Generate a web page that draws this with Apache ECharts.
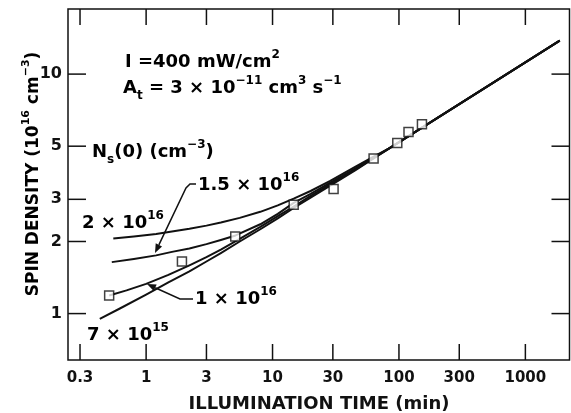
<!DOCTYPE html>
<html>
<head>
<meta charset="utf-8">
<script src="https://cdn.jsdelivr.net/npm/echarts@6/dist/echarts.min.js"></script>
<style>
  html, body { margin: 0; padding: 0; background: #fff; }
  #chart { width: 571px; height: 413px; }
</style>
</head>
<body>
<div id="chart"></div>
<script>
// Axis ticks: illumination time (min) and spin density (10^16 cm^-3)
const xTicks = [0.3, 1, 3, 10, 30, 100, 300, 1000];
const xTickLabels = ['0.3', '1', '3', '10', '30', '100', '300', '1000'];
const yTicks = [1, 2, 3, 5, 10];
const yTickLabels = ['1', '2', '3', '5', '10'];

// Measured spin density
const measuredTime = [0.51, 1.92, 5.07, 14.7, 30.4, 63, 97, 119, 152];
const measuredDensity = [1.19, 1.65, 2.10, 2.85, 3.31, 4.44, 5.15, 5.73, 6.17];

// Calculated curves for several initial densities Ns(0)
const time2e16 = [0.55, 0.8, 1.2, 1.6, 2.2, 3.0, 3.9, 5.5, 8, 11, 14.7, 20, 28.6, 45, 63, 85, 1870];
const dens2e16 = [2.06, 2.10, 2.15, 2.20, 2.26, 2.33, 2.40, 2.51, 2.66, 2.83, 3.02, 3.25, 3.58, 4.10, 4.52, 4.92, 13.8];

const time15e16 = [0.535, 0.8, 1.2, 1.6, 2.2, 3.0, 3.9, 5.1, 8, 11, 14.7, 20, 28.6, 45, 63, 85, 1870];
const dens15e16 = [1.64, 1.69, 1.75, 1.81, 1.87, 1.95, 2.03, 2.12, 2.36, 2.61, 2.90, 3.16, 3.52, 4.03, 4.48, 4.92, 13.8];

const time1e16 = [0.51, 0.7, 1, 1.5, 2.2, 3.0, 3.9, 5.5, 8, 11, 14.7, 20, 28.6, 45, 63, 85, 1870];
const dens1e16 = [1.19, 1.25, 1.33, 1.45, 1.59, 1.72, 1.85, 2.05, 2.30, 2.55, 2.80, 3.10, 3.47, 3.99, 4.46, 4.92, 13.8];

const time7e15 = [0.43, 0.62, 1, 1.5, 2.2, 3.0, 3.9, 5.5, 8, 11, 14.7, 20, 28.6, 45, 63, 85, 1870];
const dens7e15 = [0.95, 1.05, 1.2, 1.35, 1.50, 1.65, 1.79, 2.00, 2.25, 2.50, 2.76, 3.05, 3.42, 3.96, 4.45, 4.92, 13.8];

// Plot range
const X_MIN = 0.241, X_MAX = 2234;
const Y_MIN = 0.64, Y_MAX = 18.7;

const FONT = "'DejaVu Sans', 'Liberation Sans', sans-serif";
const pair = (xs, ys) => xs.map((x, i) => [x, ys[i]]);

const richStyles = {
  m: { fontSize: 18, fontWeight: 'bold', fontFamily: FONT, color: '#111', lineHeight: 27, verticalAlign: 'middle' },
  p: { fontSize: 12, fontWeight: 'bold', fontFamily: FONT, color: '#111', lineHeight: 15, verticalAlign: 'top' },
  b: { fontSize: 12, fontWeight: 'bold', fontFamily: FONT, color: '#111', lineHeight: 15, verticalAlign: 'bottom' }
};

function curve(name, xs, ys) {
  return {
    name: name,
    type: 'line',
    data: pair(xs, ys),
    showSymbol: false,
    smooth: false,
    lineStyle: { color: '#111', width: 2, join: 'round' },
    z: 3,
    silent: true
  };
}

const TICK_X = 16, TICK_Y = 18;

const chart = echarts.init(document.getElementById('chart'), null, { renderer: 'canvas' });

const option = {
  animation: false,
  backgroundColor: '#fff',
  grid: {
    left: 68, right: 1.5, top: 9, bottom: 53,
    show: true, borderColor: '#111', borderWidth: 1.5, backgroundColor: 'transparent'
  },
  xAxis: {
    type: 'log', logBase: 10, min: X_MIN, max: X_MAX,
    axisLine: { show: false }, axisTick: { show: false },
    axisLabel: { show: false }, splitLine: { show: false }
  },
  yAxis: {
    type: 'log', logBase: 10, min: Y_MIN, max: Y_MAX,
    axisLine: { show: false }, axisTick: { show: false },
    axisLabel: { show: false }, splitLine: { show: false }
  },
  series: [
    curve('2e16', time2e16, dens2e16),
    curve('1.5e16', time15e16, dens15e16),
    curve('1e16', time1e16, dens1e16),
    curve('7e15', time7e15, dens7e15),
    {
      name: 'measured',
      type: 'scatter',
      data: pair(measuredTime, measuredDensity),
      symbol: 'rect',
      symbolSize: 9,
      itemStyle: { color: '#fff', borderColor: '#111', borderWidth: 1.5 },
      z: 5,
      silent: true
    },
    {
      // x-axis ticks (bottom and top) with labels below the frame
      type: 'custom',
      clip: false,
      silent: true,
      data: xTicks.map((v, i) => [v, Y_MIN, i]),
      renderItem: function (params, api) {
        const v = api.value(0);
        const b = api.coord([v, Y_MIN]);
        const t = api.coord([v, Y_MAX]);
        const idx = api.value(2);
        return {
          type: 'group',
          children: [
            { type: 'line', shape: { x1: b[0], y1: b[1], x2: b[0], y2: b[1] - TICK_X }, style: { stroke: '#111', lineWidth: 1.5 } },
            { type: 'line', shape: { x1: t[0], y1: t[1], x2: t[0], y2: t[1] + TICK_X }, style: { stroke: '#111', lineWidth: 1.5 } },
            { type: 'text', style: { x: b[0], y: b[1] + 18, text: xTickLabels[idx], align: 'center', verticalAlign: 'middle',
              font: "bold 15px " + FONT, fill: '#111' } }
          ]
        };
      }
    },
    {
      // y-axis ticks (left and right) with labels left of the frame
      type: 'custom',
      clip: false,
      silent: true,
      data: yTicks.map((v, i) => [X_MIN, v, i]),
      renderItem: function (params, api) {
        const v = api.value(1);
        const l = api.coord([X_MIN, v]);
        const r = api.coord([X_MAX, v]);
        const idx = api.value(2);
        return {
          type: 'group',
          children: [
            { type: 'line', shape: { x1: l[0], y1: l[1], x2: l[0] + TICK_Y, y2: l[1] }, style: { stroke: '#111', lineWidth: 1.5 } },
            { type: 'line', shape: { x1: r[0], y1: r[1], x2: r[0] - TICK_Y, y2: r[1] }, style: { stroke: '#111', lineWidth: 1.5 } },
            { type: 'text', style: { x: l[0] - 6, y: l[1], text: yTickLabels[idx], align: 'right', verticalAlign: 'middle',
              font: "bold 16px " + FONT, fill: '#111' } }
          ]
        };
      }
    }
  ]
};

function label(x, y, text) {
  return { type: 'text', x: x, y: y, z: 10, silent: true,
    style: { text: text, rich: richStyles, align: 'left', verticalAlign: 'middle' } };
}

function arrow(points, tip) {
  const prev = points[points.length - 1];
  const dx = tip[0] - prev[0], dy = tip[1] - prev[1];
  const len = Math.sqrt(dx * dx + dy * dy);
  const ux = dx / len, uy = dy / len;
  const hl = 9, hw = 3.5;
  const bx = tip[0] - ux * hl, by = tip[1] - uy * hl;
  return [
    { type: 'polyline', z: 10, silent: true, shape: { points: points.concat([[bx, by]]) },
      style: { stroke: '#111', lineWidth: 1.5, fill: null } },
    { type: 'polygon', z: 10, silent: true,
      shape: { points: [tip, [bx - uy * hw, by + ux * hw], [bx + uy * hw, by - ux * hw]] },
      style: { fill: '#111' } }
  ];
}

option.graphic = [
  label(125, 62, '{m|I =400 mW/cm}{p|2}'),
  label(123, 88, '{m|A}{b|t}{m| = 3 × 10}{p|−11}{m| cm}{p|3}{m| s}{p|−1}'),
  label(92, 152, '{m|N}{b|s}{m|(0) (cm}{p|−3}{m|)}'),
  label(198, 185, '{m|1.5 × 10}{p|16}'),
  label(82, 223, '{m|2 × 10}{p|16}'),
  label(195, 299, '{m|1 × 10}{p|16}'),
  label(87, 335, '{m|7 × 10}{p|15}'),
  ...arrow([[196, 184], [190, 184], [186, 188]], [155, 253]),
  ...arrow([[193, 299], [180, 299]], [147, 284]),
  {
    type: 'text', x: 319, y: 404, silent: true,
    style: { text: 'ILLUMINATION TIME (min)', align: 'center', verticalAlign: 'middle',
      font: "bold 18px " + FONT, fill: '#111' }
  },
  {
    type: 'text', x: 34, y: 174, rotation: Math.PI / 2, silent: true,
    style: {
      text: '{t|SPIN DENSITY (10}{s|16}{t| cm}{s|−3}{t|)}',
      align: 'center', verticalAlign: 'middle',
      rich: {
        t: { fontSize: 17, fontWeight: 'bold', fontFamily: FONT, color: '#111', lineHeight: 26, verticalAlign: 'middle' },
        s: { fontSize: 11, fontWeight: 'bold', fontFamily: FONT, color: '#111', lineHeight: 14, verticalAlign: 'top' }
      }
    }
  }
];

chart.setOption(option);
</script>
</body>
</html>
